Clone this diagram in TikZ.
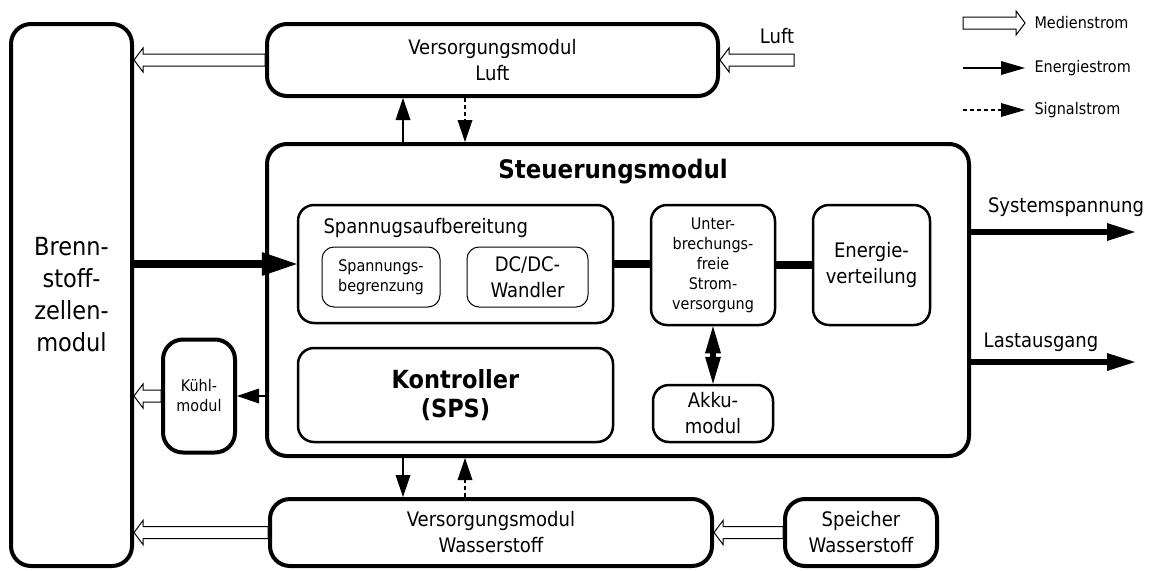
\documentclass[tikz,border=0pt]{standalone}
\usepackage{fontspec}
\setmainfont{DejaVu Sans Condensed}
\usetikzlibrary{arrows.meta,calc}

% hollow media-flow arrow: #1 = start (gives the height), #2 = tip (gives the x position)
\newcommand\medienpfeil[2]{%
  \draw[medium] let \p1=(#1), \p2=(#2), \n1={ifthenelse(\x2>\x1,1,-1)} in
    (\x1,\y1+6pt) -- (\x2-\n1*9pt,\y1+6pt) -- (\x2-\n1*9pt,\y1+12pt) -- (\x2,\y1)
    -- (\x2-\n1*9pt,\y1-12pt) -- (\x2-\n1*9pt,\y1-6pt) -- (\x1,\y1-6pt) -- cycle;}

\begin{document}
\begin{tikzpicture}[x=1pt,y=-1pt,
  frame/.style={draw, line width=4pt, rounded corners=20pt, inner sep=0pt, align=center},
  inner/.style={draw, line width=2.5pt, rounded corners=16pt, inner sep=0pt, align=center},
  small/.style={draw, line width=1pt, rounded corners=12pt, inner sep=0pt, align=center},
  fL/.style={font=\fontsize{20}{26}\selectfont},
  fM/.style={font=\fontsize{16}{20}\selectfont},
  fXL/.style={font=\fontsize{25}{32}\selectfont},
  fB/.style={font=\bfseries\fontsize{25}{29}\selectfont},
  energie/.style={line width=2.5pt, -{Triangle[length=22pt,width=15pt,line width=0pt]}},
  signal/.style={line width=2pt, dash pattern=on 4pt off 3pt, -{Triangle[length=22pt,width=15pt,line width=0pt]}},
  leistung/.style={line width=6pt, -{Triangle[length=28pt,width=18pt,line width=0pt]}},
  haupt/.style={line width=8pt, -{Triangle[length=35pt,width=24pt,line width=0pt]}},
  bus/.style={line width=8pt},
  medium/.style={draw, line width=1pt, fill=white, line join=miter},
]
\useasboundingbox (0,0) rectangle (1155,570);

% modules
\node[frame, fXL, minimum width=121pt, minimum height=542pt] (bz) at (71.5,295) {Brenn-\\stoff-\\zellen-\\modul};
\node[frame, fL, minimum width=451pt, minimum height=72pt] (luftmod) at (492.5,60) {Versorgungsmodul\\Luft};
\node[frame, minimum width=702pt, minimum height=312pt] (steuer) at (618,300) {};
\node[font=\bfseries\fontsize{25.5}{30}\selectfont] (steuertitle) at (613,172) {Steuerungsmodul};
\node[frame, fM, minimum width=72pt, minimum height=113pt] (kuehl) at (199,396) {Kühl-\\modul};
\node[frame, fL, minimum width=442pt, minimum height=67pt] (wmod) at (491,532.5) {Versorgungsmodul\\Wasserstoff};
\node[frame, fL, minimum width=152pt, minimum height=67pt] (speicher) at (861,532.5) {Speicher\\Wasserstoff};

% inside the control module
\node[inner, minimum width=315pt, minimum height=118pt] (spa) at (455.5,264) {};
\node[fL, anchor=west] (spatitle) at (320,228) {Spannugsaufbereitung};
\node[small, fM, minimum width=118pt, minimum height=60pt] (sbg) at (381,277) {Spannungs-\\begrenzung};
\node[small, fL, minimum width=121pt, minimum height=60pt] (dcdc) at (527.5,277) {DC/DC-\\Wandler};
\node[inner, fM, minimum width=124pt, minimum height=120pt] (usv) at (713,265) {Unter-\\brechungs-\\freie\\Strom-\\versorgung};
\node[inner, fL, minimum width=117pt, minimum height=120pt] (ev) at (871.5,265) {Energie-\\verteilung};
\node[inner, fB, minimum width=315pt, minimum height=94pt] (kon) at (455.5,395) {Kontroller\\(SPS)};
\node[inner, fL, minimum width=120pt, minimum height=57pt] (akku) at (713,413.5) {Akku-\\modul};

% energy and signal links
\draw[haupt] (bz.east |- spa.west) -- (spa.west);
\draw[bus] (spa.east) -- (spa.east -| usv.west);
\draw[bus] (usv.east) -- (ev.west);
\draw[line width=6pt, {Triangle[length=27pt,width=16pt,line width=0pt]}-{Triangle[length=27pt,width=16pt,line width=0pt]}] (usv.south) -- (akku.north);

\coordinate (xa) at (403,0);
\coordinate (xb) at (465,0);
\draw[energie] (xa |- steuer.north) -- (xa |- luftmod.south);
\draw[signal] (xb |- luftmod.south) -- (xb |- steuer.north);
\draw[energie] (xa |- steuer.south) -- (xa |- wmod.north);
\draw[signal] (xb |- wmod.north) -- (xb |- steuer.south);
\draw[energie] (steuer.west |- kuehl.east) -- (kuehl.east);

% outputs
\coordinate (sysout) at (1135,232);
\coordinate (lastout) at (1135,362);
\draw[leistung] (steuer.east |- sysout) -- (sysout);
\draw[leistung] (steuer.east |- lastout) -- (lastout);
\node[fL] (syslabel) at (1066,207) {Systemspannung};
\node[fL] (lastlabel) at (1041,342) {Lastausgang};

% media flows
\coordinate (luftin) at (794,60);
\node[fL] (luftlabel) at (777,36) {Luft};
\medienpfeil{luftin}{luftmod.east}
\medienpfeil{luftmod.west}{bz.east}
\medienpfeil{kuehl.west}{bz.east}
\medienpfeil{wmod.west}{bz.east}
\medienpfeil{speicher.west}{wmod.east}

% legend
\coordinate (l1a) at (963,23);  \coordinate (l1b) at (1025,23);
\coordinate (l2a) at (963,68);  \coordinate (l2b) at (1025,68);
\coordinate (l3a) at (963,110); \coordinate (l3b) at (1025,110);
\medienpfeil{l1a}{l1b}
\draw[line width=2.5pt, -{Triangle[length=24pt,width=14pt,line width=0pt]}] (l2a) -- (l2b);
\draw[line width=2pt, dash pattern=on 4pt off 3pt, -{Triangle[length=24pt,width=14pt,line width=0pt]}] (l3a) -- (l3b);
\node[fM, anchor=west] (leg1) at (1031,23) {Medienstrom};
\node[fM, anchor=west] (leg2) at (1031,68) {Energiestrom};
\node[fM, anchor=west] (leg3) at (1031,110) {Signalstrom};
\end{tikzpicture}
\end{document}
